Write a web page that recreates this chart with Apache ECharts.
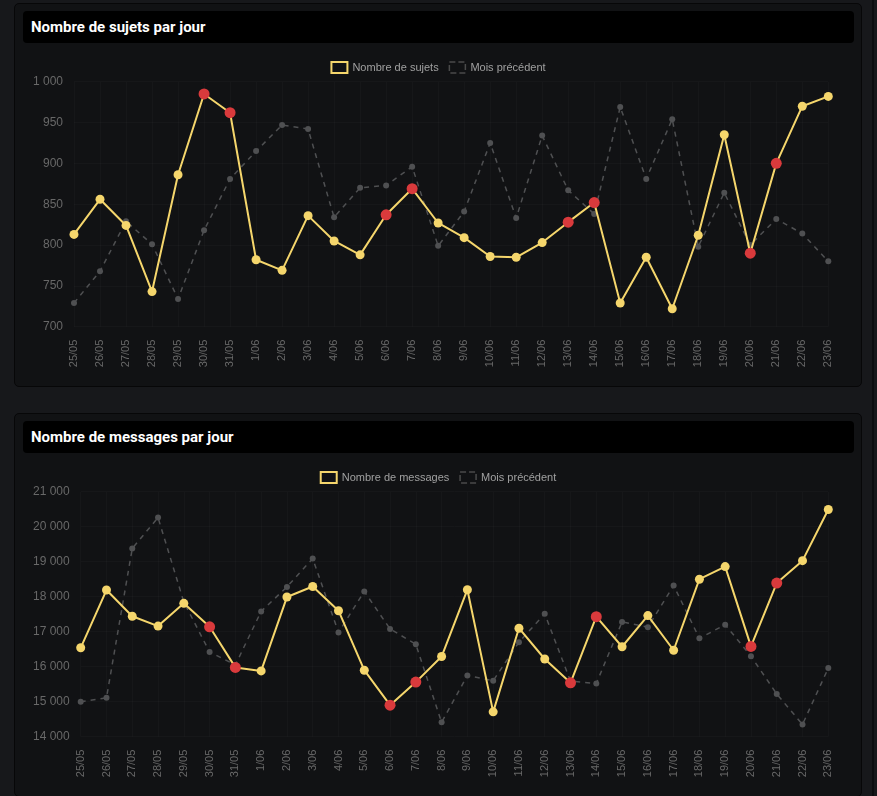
<!DOCTYPE html>
<html>
<head>
<meta charset="utf-8">
<script src="https://cdn.jsdelivr.net/npm/echarts@6/dist/echarts.min.js"></script>
<style>
html, body { margin: 0; padding: 0; background: #17181b; width: 877px; height: 796px; overflow: hidden; }
.panel { position: absolute; left: 14px; width: 846px; height: 382px; background: #111214; border: 1px solid #070708; border-radius: 5px; }
.bar { position: absolute; left: 8px; top: 7px; width: 831px; height: 32px; background: #000; border-radius: 4px; color: #fff;
	font: bold 15px Roboto, "Liberation Sans", sans-serif; line-height: 32px; padding-left: 8px; box-sizing: border-box; z-index: 2; }
.chart { position: absolute; left: 0; top: 0; width: 846px; height: 382px; }
.edge { position: absolute; left: 872px; top: 0; width: 2px; height: 796px; background: #0c0d0f; }
</style>
</head>
<body>
<div class="panel" style="top:3px">
	<div class="bar">Nombre de sujets par jour</div>
	<div class="chart" id="c1"></div>
</div>
<div class="panel" style="top:413px">
	<div class="bar">Nombre de messages par jour</div>
	<div class="chart" id="c2"></div>
</div>
<div class="edge"></div>
<script>
var days = ['25/05','26/05','27/05','28/05','29/05','30/05','31/05','1/06','2/06','3/06','4/06','5/06','6/06','7/06','8/06',
	'9/06','10/06','11/06','12/06','13/06','14/06','15/06','16/06','17/06','18/06','19/06','20/06','21/06','22/06','23/06'];
// points drawn in red
var redDays = ['30/05','31/05','6/06','7/06','13/06','14/06','20/06','21/06'];

var sujets = [813,856,824,743,886,985,962,782,769,836,805,788,837,869,827,809,786,785,803,828,852,729,785,722,812,935,790,900,970,982];
var sujetsPrev = [729,768,829,801,734,818,881,915,947,942,834,870,873,896,799,841,925,833,934,867,838,969,881,954,798,864,800,832,814,780];
var sujetsTicks = [700, 1000, 50];

var messages = [16540,18190,17440,17160,17810,17140,15980,15880,17990,18290,17600,15900,14900,15560,16290,
	18200,14710,17100,16220,15540,17430,16570,17460,16470,18500,18860,16580,18390,19030,20490];
var messagesPrev = [15000,15110,19380,20260,17850,16420,16050,17580,18280,19090,16980,18150,17080,16640,14410,
	15750,15600,16700,17510,15590,15520,17280,17130,18320,16810,17200,16300,15220,14350,15960];
var messagesTicks = [14000, 21000, 1000];

var yellow = '#f5d66c';
var red = '#d93a3c';
var grey = '#4f5052';
var font = '"Liberation Sans", Arial, sans-serif';

function fmt(v) {
	return String(v).replace(/\B(?=(\d{3})+(?!\d))/g, ' ');
}

function makeChart(id, name, cur, prev, ticks, left) {
	var chart = echarts.init(document.getElementById(id));
	var curData = cur.map(function(v, i) {
		if (redDays.indexOf(days[i]) >= 0) {
			return { value: v, symbolSize: 11, itemStyle: { color: red } };
		}
		return v;
	});
	var option = {
		animation: false,
		textStyle: { fontFamily: font },
		legend: {
			top: 57,
			left: 'center',
			padding: 0,
			itemWidth: 16,
			itemHeight: 11,
			itemGap: 10,
			selectedMode: false,
			textStyle: { color: '#a0a0a0', fontSize: 11, fontFamily: font },
			data: [{
				name: name,
				icon: 'rect',
				itemStyle: { color: 'transparent', borderColor: yellow, borderWidth: 2 }
			}, {
				name: 'Mois précédent',
				icon: 'rect',
				itemStyle: { color: 'transparent', borderColor: '#4a4a4a', borderWidth: 1.5, borderType: 'dashed' }
			}]
		},
		grid: {
			top: 77.7,
			bottom: 59.3,
			left: left,
			right: 32.7
		},
		xAxis: {
			type: 'category',
			boundaryGap: false,
			data: days,
			axisLine: { show: false },
			axisTick: { show: false },
			axisLabel: { rotate: 90, color: '#686868', fontSize: 11, margin: 13, interval: 0, fontFamily: font },
			splitLine: { show: true, lineStyle: { color: 'rgba(255,255,255,0.025)', width: 1 } }
		},
		yAxis: {
			type: 'value',
			min: ticks[0],
			max: ticks[1],
			interval: ticks[2],
			axisLine: { show: false },
			axisTick: { show: false },
			axisLabel: { color: '#686868', fontSize: 12, margin: 11, formatter: fmt, fontFamily: font },
			splitLine: { lineStyle: { color: 'rgba(255,255,255,0.025)', width: 1 } }
		},
		series: [{
			name: name,
			type: 'line',
			z: 3,
			data: curData,
			symbol: 'circle',
			symbolSize: 9,
			itemStyle: { color: yellow },
			lineStyle: { color: yellow, width: 2 },
			emphasis: { disabled: true }
		}, {
			name: 'Mois précédent',
			type: 'line',
			z: 2,
			data: prev,
			symbol: 'circle',
			symbolSize: 6,
			itemStyle: { color: grey },
			lineStyle: { color: grey, width: 1.5, type: [5, 5] },
			emphasis: { disabled: true }
		}]
	};
	chart.setOption(option);
	return chart;
}

makeChart('c1', 'Nombre de sujets', sujets, sujetsPrev, sujetsTicks, 59);
makeChart('c2', 'Nombre de messages', messages, messagesPrev, messagesTicks, 65.7);
</script>
</body>
</html>
